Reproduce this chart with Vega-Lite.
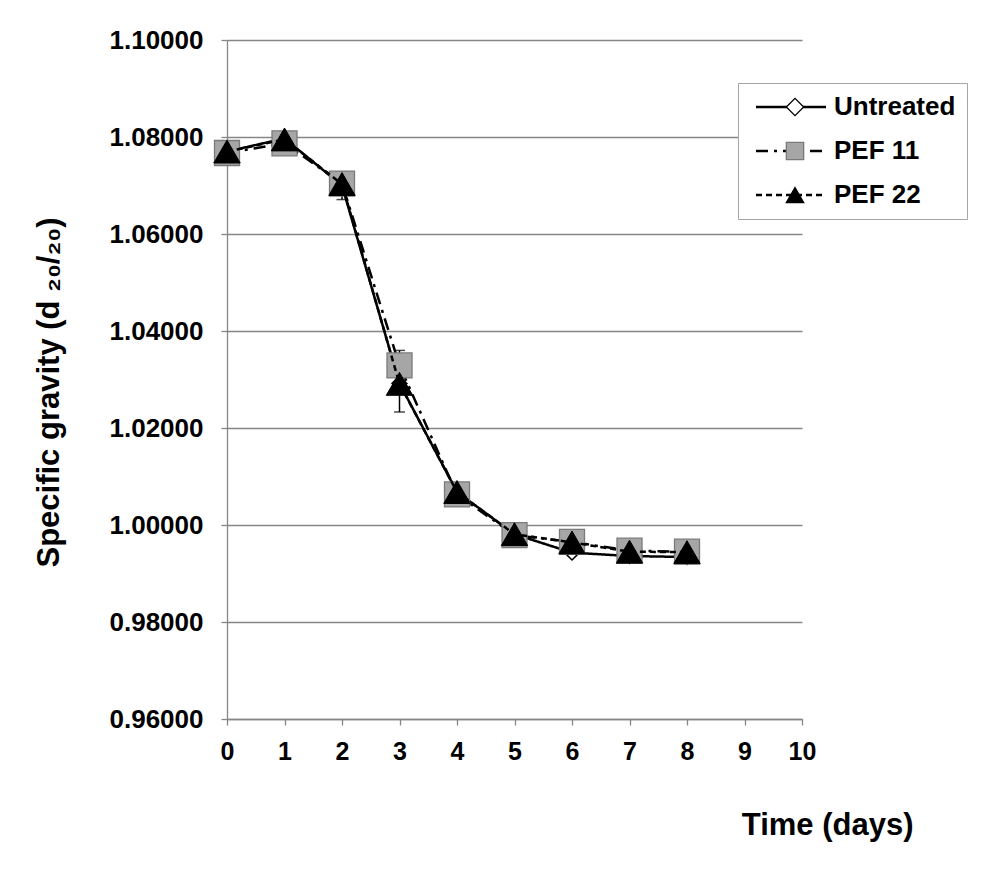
{
  "$schema": "https://vega.github.io/schema/vega-lite/v6.json",
  "width": 575,
  "height": 679,
  "autosize": {"type": "none"},
  "padding": {"left": 227, "top": 40, "right": 183, "bottom": 150},
  "background": "white",
  "config": {"view": {"stroke": null}, "font": "Liberation Sans"},
  "datasets": {
    "sg": [
      {"series": "Untreated", "marker": "U", "day": 0, "sg": 1.0770},
      {"series": "Untreated", "marker": "U", "day": 1, "sg": 1.0797},
      {"series": "Untreated", "marker": "U", "day": 2, "sg": 1.0700},
      {"series": "Untreated", "marker": "U", "day": 3, "sg": 1.0292},
      {"series": "Untreated", "marker": "U", "day": 4, "sg": 1.0068},
      {"series": "Untreated", "marker": "U", "day": 5, "sg": 0.9981},
      {"series": "Untreated", "marker": "U", "day": 6, "sg": 0.9943},
      {"series": "Untreated", "marker": "U", "day": 7, "sg": 0.9936},
      {"series": "Untreated", "marker": "U", "day": 8, "sg": 0.9934},
      {"series": "PEF 11", "marker": "P11", "day": 0, "sg": 1.0767},
      {"series": "PEF 11", "marker": "P11", "day": 1, "sg": 1.0787},
      {"series": "PEF 11", "marker": "P11", "day": 2, "sg": 1.0704},
      {"series": "PEF 11", "marker": "P11", "day": 3, "sg": 1.0329},
      {"series": "PEF 11", "marker": "P11", "day": 4, "sg": 1.0063},
      {"series": "PEF 11", "marker": "P11", "day": 5, "sg": 0.9979},
      {"series": "PEF 11", "marker": "P11", "day": 6, "sg": 0.9965},
      {"series": "PEF 11", "marker": "P11", "day": 7, "sg": 0.9947},
      {"series": "PEF 11", "marker": "P11", "day": 8, "sg": 0.9945},
      {"series": "PEF 22", "marker": "P22", "day": 0, "sg": 1.0770},
      {"series": "PEF 22", "marker": "P22", "day": 1, "sg": 1.0795},
      {"series": "PEF 22", "marker": "P22", "day": 2, "sg": 1.0703},
      {"series": "PEF 22", "marker": "P22", "day": 3, "sg": 1.0291},
      {"series": "PEF 22", "marker": "P22", "day": 4, "sg": 1.0068},
      {"series": "PEF 22", "marker": "P22", "day": 5, "sg": 0.9981},
      {"series": "PEF 22", "marker": "P22", "day": 6, "sg": 0.9964},
      {"series": "PEF 22", "marker": "P22", "day": 7, "sg": 0.9945},
      {"series": "PEF 22", "marker": "P22", "day": 8, "sg": 0.9944}
    ],
    "err": [
      {"series": "PEF 11", "day": 3, "sg": 1.0298, "hi": 1.0360},
      {"series": "PEF 22", "day": 3, "sg": 1.0233, "hi": 1.0349},
      {"series": "PEF 22", "day": 2, "sg": 1.0671, "hi": 1.0703}
    ],
    "caps": [
      {"series": "PEF 11", "day": 3, "sg": 1.0360},
      {"series": "PEF 22", "day": 3, "sg": 1.0233},
      {"series": "PEF 22", "day": 2, "sg": 1.0671}
    ]
  },
  "encoding": {
    "x": {
      "field": "day", "type": "quantitative",
      "scale": {"domain": [0, 10], "nice": false, "zero": false},
      "axis": {
        "values": [0, 1, 2, 3, 4, 5, 6, 7, 8, 9, 10],
        "grid": false,
        "labelFlush": false,
        "domainColor": "#868686", "domainWidth": 1.3,
        "tickColor": "#868686", "tickWidth": 1.3, "tickSize": 6,
        "labelFont": "Liberation Sans", "labelFontSize": 25, "labelFontWeight": "bold", "labelColor": "black",
        "labelPadding": 14,
        "title": "Time (days)",
        "titleFont": "Liberation Sans", "titleFontSize": 31, "titleFontWeight": "bold", "titleColor": "black",
        "titleX": 686, "titleY": 115, "titleAlign": "right", "titleBaseline": "alphabetic"
      }
    },
    "y": {
      "field": "sg", "type": "quantitative",
      "scale": {"domain": [0.96, 1.1], "nice": false, "zero": false},
      "axis": {
        "values": [0.96, 0.98, 1.0, 1.02, 1.04, 1.06, 1.08, 1.1],
        "format": ".5f",
        "grid": true, "gridColor": "#868686", "gridWidth": 1.3,
        "domainColor": "#868686", "domainWidth": 1.3,
        "tickColor": "#868686", "tickWidth": 1.3, "tickSize": 6,
        "labelFont": "Liberation Sans", "labelFontSize": 26, "labelFontWeight": "bold", "labelColor": "black",
        "labelPadding": 18,
        "title": "Specific gravity (d ₂₀/₂₀)",
        "titleFont": "Liberation Sans", "titleFontSize": 31, "titleFontWeight": "bold", "titleColor": "black",
        "titlePadding": 44,
        "titleY": 352
      }
    }
  },
  "layer": [
    {
      "data": {"name": "err"},
      "mark": {"type": "rule", "color": "black", "strokeWidth": 1.5},
      "encoding": {"y2": {"field": "hi"}}
    },
    {
      "data": {"name": "caps"},
      "mark": {"type": "tick", "orient": "horizontal", "color": "black", "size": 11, "thickness": 1.5}
    },
    {
      "data": {"name": "sg"},
      "transform": [{"filter": "datum.series === 'Untreated'"}],
      "mark": {"type": "line", "color": "black", "strokeWidth": 2.5},
      "encoding": {
        "strokeDash": {
          "field": "series", "type": "nominal",
          "scale": {"domain": ["Untreated", "PEF 11", "PEF 22"], "range": [[1, 0], [12, 6, 3, 6], [6, 4]]},
          "legend": {
            "orient": "none", "legendX": 511, "legendY": 43, "title": null,
            "padding": 11, "rowPadding": 18,
            "symbolType": "M-3.5,0H3.5", "symbolSize": 400, "symbolOffset": 29,
            "symbolStrokeColor": "black", "symbolStrokeWidth": 2.5, "symbolFillColor": "transparent",
            "labelOffset": 30,
            "labelFont": "Liberation Sans", "labelFontSize": 26, "labelFontWeight": "bold", "labelColor": "black",
            "fillColor": "white", "strokeColor": "#a6a6a6",
            "zindex": 1
          }
        }
      }
    },
    {
      "data": {"name": "sg"},
      "transform": [{"filter": "datum.series === 'Untreated'"}],
      "mark": {"type": "point", "size": 220, "opacity": 1, "strokeWidth": 1.5},
      "encoding": {
        "shape": {
          "field": "marker", "type": "nominal",
          "scale": {"domain": ["U", "P11", "P22"], "range": ["diamond", "square", "triangle-up"]},
          "legend": {
            "orient": "none", "legendX": 511, "legendY": 43, "title": null,
            "padding": 11, "rowPadding": 18,
            "symbolSize": 300, "symbolOffset": 33, "symbolStrokeWidth": 1.3,
            "labelOffset": 30, "labelExpr": "' '",
            "labelFont": "Liberation Sans", "labelFontSize": 26, "labelFontWeight": "bold",
            "fillColor": "transparent", "strokeColor": "transparent",
            "zindex": 2
          }
        },
        "fill": {
          "field": "marker", "type": "nominal",
          "scale": {"domain": ["U", "P11", "P22"], "range": ["white", "#a6a6a6", "black"]}
        },
        "stroke": {
          "field": "marker", "type": "nominal",
          "scale": {"domain": ["U", "P11", "P22"], "range": ["black", "#7a7a7a", "black"]}
        }
      }
    },
    {
      "data": {"name": "sg"},
      "transform": [{"filter": "datum.series === 'PEF 11'"}],
      "mark": {"type": "line", "color": "black", "strokeWidth": 2.5},
      "encoding": {
        "strokeDash": {"field": "series", "type": "nominal"}
      }
    },
    {
      "data": {"name": "sg"},
      "transform": [{"filter": "datum.series === 'PEF 11'"}],
      "mark": {"type": "point", "size": 625, "opacity": 1, "strokeWidth": 1.3},
      "encoding": {
        "shape": {"field": "marker", "type": "nominal"},
        "fill": {"field": "marker", "type": "nominal"},
        "stroke": {"field": "marker", "type": "nominal"}
      }
    },
    {
      "data": {"name": "sg"},
      "transform": [{"filter": "datum.series === 'PEF 22'"}],
      "mark": {"type": "line", "color": "black", "strokeWidth": 2.5},
      "encoding": {
        "strokeDash": {"field": "series", "type": "nominal"}
      }
    },
    {
      "data": {"name": "sg"},
      "transform": [{"filter": "datum.series === 'PEF 22'"}],
      "mark": {"type": "point", "size": 700, "opacity": 1, "strokeWidth": 1},
      "encoding": {
        "shape": {"field": "marker", "type": "nominal"},
        "fill": {"field": "marker", "type": "nominal"},
        "stroke": {"field": "marker", "type": "nominal"}
      }
    }
  ]
}
